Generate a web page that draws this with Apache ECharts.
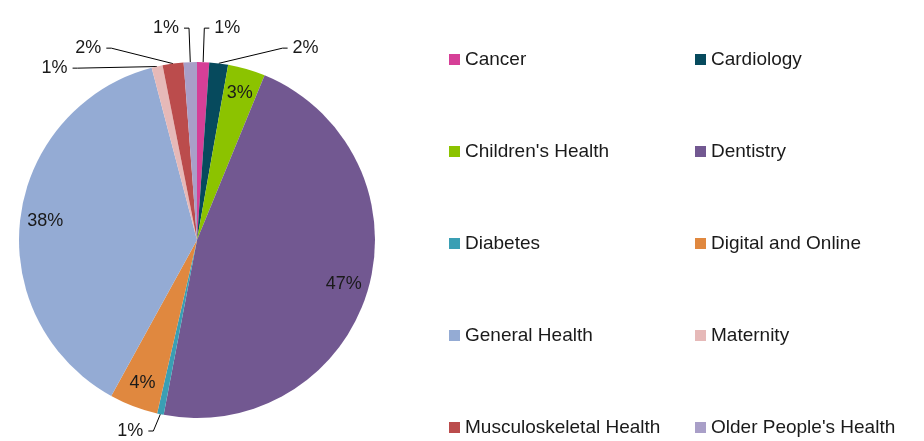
<!DOCTYPE html>
<html>
<head>
<meta charset="utf-8">
<script src="https://cdn.jsdelivr.net/npm/echarts@6/dist/echarts.min.js"></script>
<style>
    html, body { margin: 0; padding: 0; background: #fff; }
    #chart { width: 924px; height: 441px; }
</style>
</head>
<body>
<div id="chart"></div>
<script>
// Categories in drawing order (clockwise from 12 o'clock)
var categories = [
    'Cancer', 'Cardiology', "Children's Health", 'Dentistry', 'Diabetes',
    'Digital and Online', 'General Health', 'Maternity', 'Musculoskeletal Health', "Older People's Health"
];

// Share of each category, in percent
var shares = [1.1, 1.7, 3.4, 46.8, 0.6, 4.4, 37.9, 1.0, 1.9, 1.2];

var colors = [
    '#d63f97', '#064a5d', '#8cc300', '#725891', '#3a9fb4',
    '#e0883f', '#94abd4', '#e6b9b8', '#bb4c4c', '#a99fc8'
];

// Legend columns
var legendLeft = [categories[0], categories[2], categories[4], categories[6], categories[8]];
var legendRight = [categories[1], categories[3], categories[5], categories[7], categories[9]];

var chartDom = document.getElementById('chart');
var chart = echarts.init(chartDom);

var fontFamily = '"Liberation Sans", Arial, sans-serif';

var pieData = categories.map(function(name, i) {
    return {
        name: name,
        value: shares[i],
        label: { show: shares[i] < 3 },
        labelLine: { show: shares[i] < 3 }
    };
});

// label-only layer so big-slice labels sit close to the rim
var innerLabelData = categories.map(function(name, i) {
    return {
        name: name,
        value: shares[i],
        label: { show: shares[i] >= 3 }
    };
});

var pctFormatter = function(p) {
    return Math.round(p.value) + '%';
};

var legendBase = {
    orient: 'vertical',
    top: 50,
    height: 400,
    padding: 0,
    itemWidth: 11,
    itemHeight: 11,
    itemGap: 73,
    icon: 'rect',
    selectedMode: false,
    textStyle: {
        fontFamily: fontFamily,
        fontSize: 19,
        color: '#1a1a1a'
    }
};

var option = {
    color: colors,
    animation: false,
    textStyle: { fontFamily: fontFamily },
    legend: [
        Object.assign({}, legendBase, { left: 449, data: legendLeft }),
        Object.assign({}, legendBase, { left: 695, data: legendRight })
    ],
    series: [
        {
            name: 'Share',
            type: 'pie',
            center: [197, 240],
            radius: 178,
            startAngle: 90,
            clockwise: true,
            avoidLabelOverlap: true,
            label: {
                position: 'outside',
                formatter: pctFormatter,
                fontSize: 18,
                color: '#1a1a1a',
                fontFamily: fontFamily
            },
            labelLine: {
                length: 34,
                length2: 5,
                lineStyle: { color: '#000', width: 1 }
            },
            itemStyle: { borderWidth: 0 },
            emphasis: { disabled: true },
            data: pieData
        },
        {
            name: 'Labels',
            type: 'pie',
            center: [197, 240],
            radius: [0, 300],
            startAngle: 90,
            clockwise: true,
            silent: true,
            z: 5,
            itemStyle: { color: 'rgba(0,0,0,0)' },
            label: {
                position: 'inside',
                formatter: pctFormatter,
                fontSize: 18,
                color: '#1a1a1a',
                fontFamily: fontFamily
            },
            labelLine: { show: false },
            emphasis: { disabled: true },
            data: innerLabelData
        }
    ]
};

chart.setOption(option);
</script>
</body>
</html>
